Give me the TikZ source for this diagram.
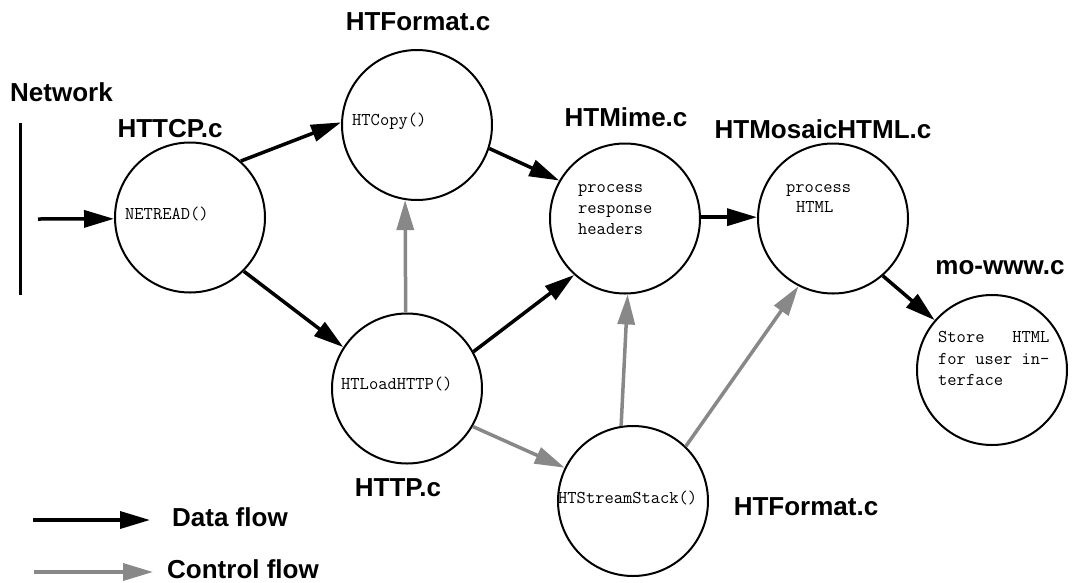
\documentclass[tikz,border=0pt]{standalone}
\usepackage{fontspec}
\setsansfont{Liberation Sans}
\usetikzlibrary{arrows.meta}
\definecolor{ctrlgray}{RGB}{136,136,136}
\begin{document}
\begin{tikzpicture}[x=1pt,y=-1pt,
  bubble/.style={circle,draw,line width=2pt,minimum size=150pt,inner sep=0pt},
  lab/.style={font=\sffamily\bfseries\fontsize{26}{30}\selectfont,inner sep=0pt},
  code/.style={font=\ttfamily\fontsize{18}{20}\selectfont,inner sep=0pt,anchor=base west},
  data/.style={line width=3.5pt,-{Triangle[length=30pt,width=17pt]}},
  ctrl/.style={data,draw=ctrlgray,fill=ctrlgray}]
\useasboundingbox (0,0) rectangle (1072,582);

% circles
\node[bubble] (A) at (190,217.5) {};
\node[bubble] (B) at (417,125) {};
\node[bubble] (C) at (625,218.5) {};
\node[bubble] (D) at (833,218.5) {};
\node[bubble] (E) at (992,370) {};
\node[bubble] (F) at (407,388.5) {};
\node[bubble] (G) at (633,501) {};

% file labels
\node[lab,anchor=west] (nw) at (10,92) {Network};
\node[lab] (lA) at (170,129) {HTTCP.c};
\node[lab] (lB) at (418,22) {HTFormat.c};
\node[lab] (lC) at (626,117) {HTMime.c};
\node[lab] (lD) at (823,129) {HTMosaicHTML.c};
\node[lab] (lE) at (1000,268) {mo-www.c};
\node[lab] (lF) at (398,488) {HTTP.c};
\node[lab] (lG) at (806,507) {HTFormat.c};

% inner texts
\node[code] (tA) at (125,219) {NETREAD()};
\node[code] (tB) at (352,125) {HTCopy()};
\node[code] (tC1) at (578,192.7) {process};
\node[code] (tC2) at (578,213.3) {response};
\node[code] (tC3) at (578,234) {headers};
\node[code] (tD1) at (786,192.7) {process};
\node[code] (tD2) at (796,212.7) {HTML};
\node[code] (tE1) at (938,342.7) {Store\ \ \ HTML};
\node[code] (tE2) at (938,364.3) {for user in-};
\node[code] (tE3) at (938,385) {terface};
\node[code] (tF) at (341,389.3) {HTLoadHTTP()};
\node[code] (tG) at (558,503.3) {HTStreamStack()};

% network line and input
\coordinate (n0) at (20,123);
\coordinate (n1) at (20,295);
\draw[line width=3pt] (n0) -- (n1);
\coordinate (in) at (38,219);
\draw[data] (in) -- (A.181);

% data flow
\draw[data] (A.48) -- (B.178);
\draw[data] (B.-18) -- (C.150);
\draw[data] (A.-45) -- (F.147);
\draw[data] (F.29) -- (C.228);
\draw[data] (C.1) -- (D.179);
\draw[data] (D.-49) -- (E.139);

% control flow
\draw[ctrl] (F.91) -- (B.-99);
\draw[ctrl] (F.-30) -- (G.154);
\draw[ctrl] (G.99) -- (C.-88);
\draw[ctrl] (G.46) -- (D.243);

% legend
\coordinate (d0) at (33,520);
\coordinate (d1) at (150,520);
\draw[data] (d0) -- (d1);
\node[lab,anchor=west] (ld) at (172,517) {Data flow};
\coordinate (c0) at (34,572);
\coordinate (c1) at (153,572);
\draw[ctrl] (c0) -- (c1);
\node[lab,anchor=west] (lc) at (167,569) {Control flow};
\end{tikzpicture}
\end{document}
